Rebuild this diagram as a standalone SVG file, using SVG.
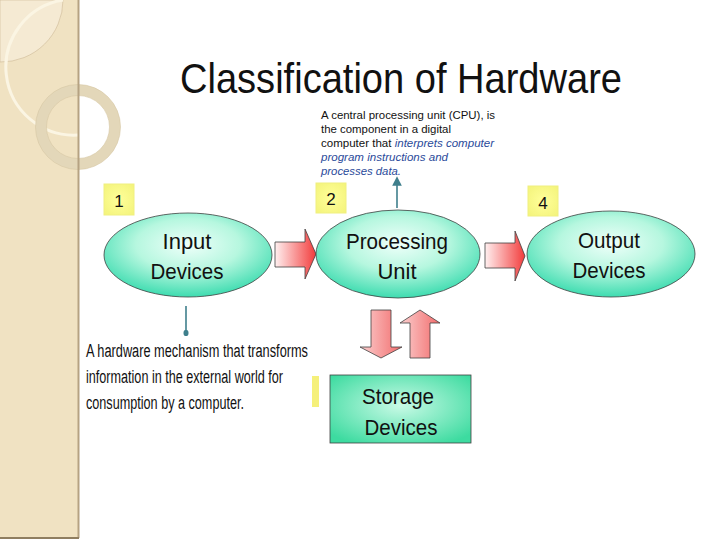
<svg xmlns="http://www.w3.org/2000/svg" width="720" height="540" viewBox="0 0 720 540">
<defs>
<radialGradient id="gEll" cx="50%" cy="38%" r="62%">
<stop offset="0" stop-color="#effffa"/>
<stop offset="0.5" stop-color="#b6f7df"/>
<stop offset="1" stop-color="#3edcb0"/>
</radialGradient>
<radialGradient id="gBox" cx="50%" cy="45%" r="65%">
<stop offset="0" stop-color="#c9fae6"/>
<stop offset="1" stop-color="#3ddba0"/>
</radialGradient>
<radialGradient id="gYel" cx="50%" cy="50%" r="70%">
<stop offset="0" stop-color="#ffff9a"/>
<stop offset="1" stop-color="#f3f37a"/>
</radialGradient>
<linearGradient id="gArrH" x1="0" y1="0" x2="1" y2="0">
<stop offset="0" stop-color="#fff0f0"/>
<stop offset="1" stop-color="#f23c3c"/>
</linearGradient>
<linearGradient id="gArrV" x1="0" y1="0" x2="1" y2="0">
<stop offset="0" stop-color="#fbd0d0"/>
<stop offset="1" stop-color="#f26b6b"/>
</linearGradient>
<marker id="mUp" viewBox="0 0 10 10" refX="5" refY="5" markerWidth="6" markerHeight="6" orient="auto">
<path d="M0,0 L10,5 L0,10 z" fill="#3f7f8c"/>
</marker>
<marker id="mDot" viewBox="0 0 10 10" refX="5" refY="5" markerWidth="4" markerHeight="5" orient="auto">
<ellipse cx="5" cy="5" rx="5" ry="4" fill="#3f7f8c"/>
</marker>
<style>
.node{font-family:"Liberation Sans",Arial,sans-serif;font-size:22px;fill:#111;text-anchor:middle}
.num{font-family:"Liberation Sans",Arial,sans-serif;font-size:17px;fill:#111;text-anchor:middle}
.ybox{fill:url(#gYel);stroke:#f0f080;stroke-width:1}
.ell{fill:url(#gEll);stroke:#404040;stroke-width:0.8}
.arrH{fill:url(#gArrH);stroke:#404040;stroke-width:0.8}
.arrV{fill:url(#gArrV);stroke:#404040;stroke-width:0.8}
.desc{font-family:"Liberation Sans",Arial,sans-serif;font-size:18px;fill:#111}
.cpu{font-family:"Liberation Sans",Arial,sans-serif;font-size:11px;fill:#111}
.blue{fill:#2a4a9a;font-style:italic}
.conn{stroke:#3f7f8c;stroke-width:1.6;fill:none}
</style>
</defs>
<rect width="720" height="540" fill="#ffffff"/>
<!-- left decorative strip -->
<g id="strip">
<rect x="0" y="0" width="78" height="538" fill="#f0e2c2"/>
<path d="M0,62 A62,62 0 0 0 63,0 L0,0 z" fill="#f5ead3" stroke="#cdb996" stroke-width="0.6"/>
<path d="M63,0 A68,68 0 0 0 78,135" fill="none" stroke="#fbf5e3" stroke-width="3"/>
<circle cx="78" cy="127" r="37" fill="none" stroke="#e3d7b9" stroke-width="11"/>
<circle cx="78" cy="127" r="42.5" fill="none" stroke="#d6c8a4" stroke-width="0.6"/>
<circle cx="78" cy="127" r="31.5" fill="none" stroke="#d6c8a4" stroke-width="0.6"/>
<line x1="78.5" y1="0" x2="78.5" y2="538" stroke="#b5a282" stroke-width="2"/>
<line x1="0" y1="538" x2="79" y2="538" stroke="#8f7e60" stroke-width="2"/>
</g>
<text x="401" y="93" font-family="'Liberation Sans',Arial,sans-serif" font-size="43" fill="#111" text-anchor="middle" textLength="442" lengthAdjust="spacingAndGlyphs">Classification of Hardware</text>
<g id="cpu-note">
<text class="cpu" x="321" y="119" textLength="174" lengthAdjust="spacingAndGlyphs">A central processing unit (CPU), is</text>
<text class="cpu" x="321" y="133" textLength="130" lengthAdjust="spacingAndGlyphs">the component in a digital</text>
<text class="cpu" x="321" y="147" textLength="173" lengthAdjust="spacingAndGlyphs">computer that <tspan class="blue">interprets computer</tspan></text>
<text class="cpu blue" x="321" y="161" textLength="127" lengthAdjust="spacingAndGlyphs">program instructions and</text>
<text class="cpu blue" x="321" y="175" textLength="80" lengthAdjust="spacingAndGlyphs">processes data.</text>
</g>
<g id="input-note">
<text class="desc" x="86" y="357" textLength="222" lengthAdjust="spacingAndGlyphs">A hardware mechanism that transforms</text>
<text class="desc" x="86" y="383" textLength="197" lengthAdjust="spacingAndGlyphs">information in the external world for</text>
<text class="desc" x="86" y="409" textLength="158" lengthAdjust="spacingAndGlyphs">consumption by a computer.</text>
</g>
<g id="connectors">
<line class="conn" x1="397" y1="208" x2="397" y2="181" marker-end="url(#mUp)"/>
<line class="conn" x1="186" y1="306" x2="186" y2="333" marker-end="url(#mDot)"/>
<path class="arrH" d="M275,242 L305,242 L305,229 L316,254 L305,279 L305,267 L275,267 z"/>
<path class="arrH" d="M485,243 L515,243 L515,231 L525,256 L515,281 L515,268 L485,268 z"/>
<path class="arrV" d="M371,310 L391,310 L391,347 L402,347 L381,358 L360,347 L371,347 z"/>
<path class="arrV" d="M410,358 L410,323 L400,323 L420,310 L440,323 L430,323 L430,358 z"/>
</g>
<g id="label1"><rect class="ybox" x="104" y="184" width="30" height="31"/><text class="num" x="119" y="207">1</text></g>
<g id="label2"><rect class="ybox" x="316" y="183" width="30" height="30"/><text class="num" x="331" y="205">2</text></g>
<g id="label4"><rect class="ybox" x="528" y="186" width="30" height="30"/><text class="num" x="543" y="209">4</text></g>
<rect x="312" y="376" width="7" height="31" fill="#f5f07a"/>
<g id="input"><ellipse class="ell" cx="188" cy="255" rx="84" ry="42"/><text class="node" x="187" y="249">Input</text><text class="node" x="187" y="279" textLength="73" lengthAdjust="spacingAndGlyphs">Devices</text></g>
<g id="processing"><ellipse class="ell" cx="398" cy="254" rx="82" ry="44"/><text class="node" x="397" y="249" textLength="102" lengthAdjust="spacingAndGlyphs">Processing</text><text class="node" x="397" y="279">Unit</text></g>
<g id="output"><ellipse class="ell" cx="611" cy="254" rx="84" ry="43"/><text class="node" x="609" y="248" textLength="62" lengthAdjust="spacingAndGlyphs">Output</text><text class="node" x="609" y="278" textLength="73" lengthAdjust="spacingAndGlyphs">Devices</text></g>
<g id="storage"><rect x="330" y="375" width="141" height="68" fill="url(#gBox)" stroke="#404040" stroke-width="0.8"/><text class="node" x="398" y="404" textLength="72" lengthAdjust="spacingAndGlyphs">Storage</text><text class="node" x="401" y="435" textLength="73" lengthAdjust="spacingAndGlyphs">Devices</text></g>
</svg>
